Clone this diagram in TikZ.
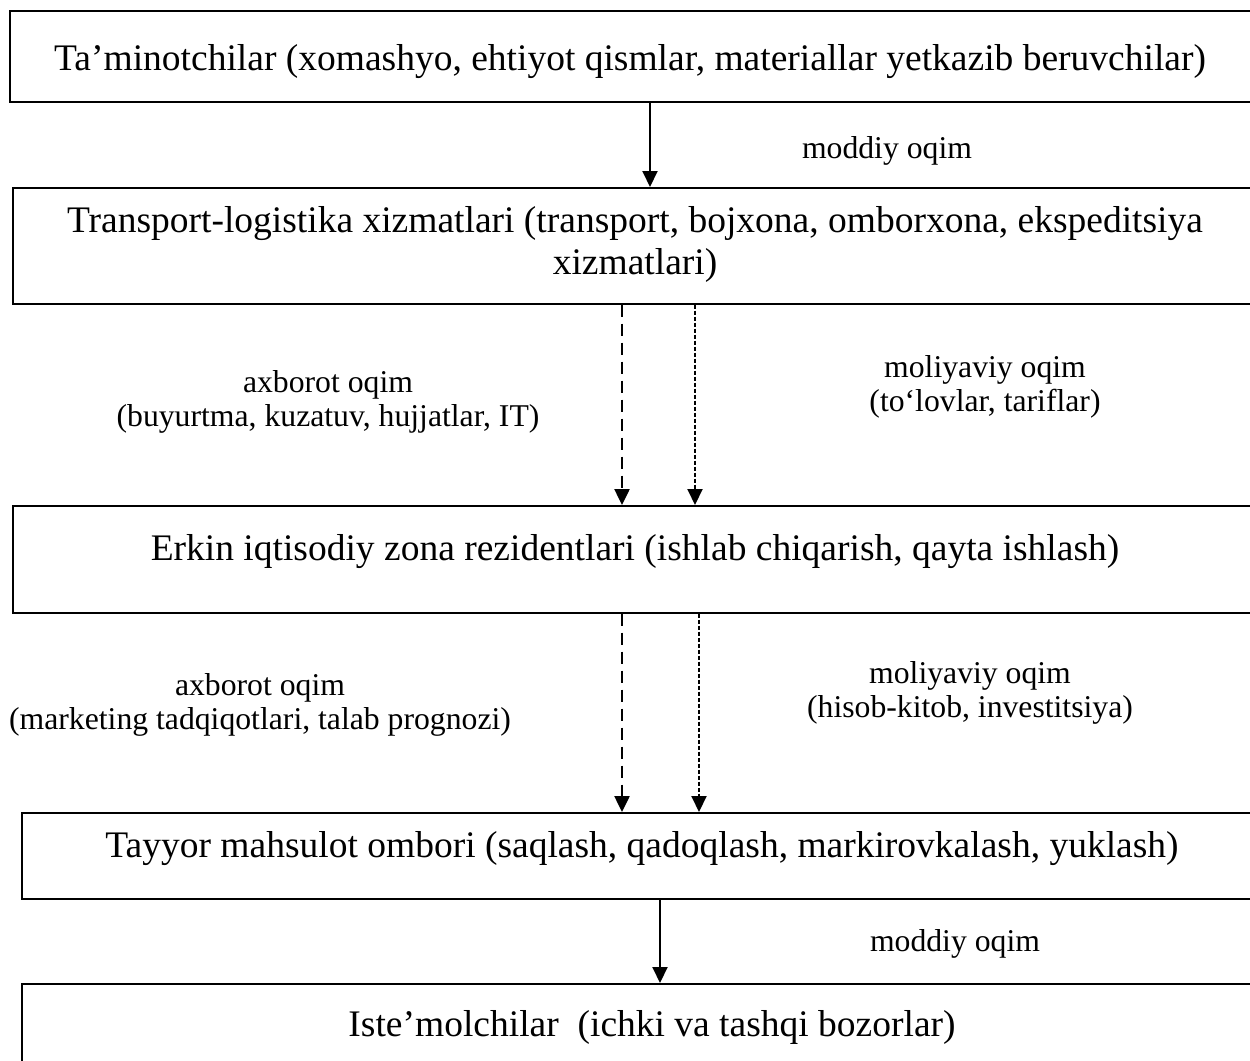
\documentclass[tikz,border=0pt]{standalone}
\usepackage{fontspec}
\setmainfont{Liberation Serif}
\usetikzlibrary{arrows.meta}
\newcommand{\boxfont}{\fontsize{37.5}{42}\selectfont}
\newcommand{\lblfont}{\fontsize{31.7}{34.5}\selectfont}
\tikzset{
  flowbox/.style={draw=black, line width=1.5pt, rectangle, inner sep=0pt, anchor=north west},
  boxtext/.style={font=\boxfont, inner sep=0pt, anchor=base},
  lbltext/.style={font=\lblfont, inner sep=0pt, anchor=base},
  tip/.style={-{Triangle[width=15pt,length=16pt]}},
  solidflow/.style={tip, line width=2pt},
  infoflow/.style={tip, line width=2.5pt, dash pattern=on 12pt off 7pt},
  finflow/.style={tip, line width=2pt, dash pattern=on 4pt off 2pt}
}
\begin{document}
\begin{tikzpicture}[x=1pt,y=-1pt]
\useasboundingbox (0,0) rectangle (1250,1060);
\clip (0,0) rectangle (1250,1060);
% boxes
\node[flowbox, minimum width=1291pt, minimum height=91pt] (b1) at (9,10) {};
\node[flowbox, minimum width=1288pt, minimum height=116pt] (b2) at (12,187) {};
\node[flowbox, minimum width=1288pt, minimum height=107pt] (b3) at (12,505) {};
\node[flowbox, minimum width=1279pt, minimum height=86pt] (b4) at (21,812) {};
\node[flowbox, minimum width=1279pt, minimum height=117pt] (b5) at (21,983) {};
% box texts
\node[boxtext] (t1) at (630,70) {Ta’minotchilar (xomashyo, ehtiyot qismlar, materiallar yetkazib beruvchilar)};
\node[boxtext] (t2) at (635,232) {\begin{tabular}[t]{@{}c@{}}Transport-logistika xizmatlari (transport, bojxona, omborxona, ekspeditsiya\\xizmatlari)\end{tabular}};
\node[boxtext] (t3) at (635,560) {Erkin iqtisodiy zona rezidentlari (ishlab chiqarish, qayta ishlash)};
\node[boxtext] (t4) at (642,857) {Tayyor mahsulot ombori (saqlash, qadoqlash, markirovkalash, yuklash)};
\node[boxtext] (t5) at (652,1036) {Iste’molchilar\ \ (ichki va tashqi bozorlar)};
% labels
\node[lbltext] (l1) at (887,158) {moddiy oqim};
\node[lbltext] (l2) at (328,392) {\begin{tabular}[t]{@{}c@{}}axborot oqim\\(buyurtma, kuzatuv, hujjatlar, IT)\end{tabular}};
\node[lbltext] (l3) at (985,377) {\begin{tabular}[t]{@{}c@{}}moliyaviy oqim\\(to‘lovlar, tariflar)\end{tabular}};
\node[lbltext] (l4) at (260,695) {\begin{tabular}[t]{@{}c@{}}axborot oqim\\(marketing tadqiqotlari, talab prognozi)\end{tabular}};
\node[lbltext] (l5) at (970,683) {\begin{tabular}[t]{@{}c@{}}moliyaviy oqim\\(hisob-kitob, investitsiya)\end{tabular}};
\node[lbltext] (l6) at (955,951) {moddiy oqim};
% connector x positions
\coordinate (xa) at (650,0);
\coordinate (xb) at (622,0);
\coordinate (xc) at (695,0);
\coordinate (xd) at (622,0);
\coordinate (xe) at (699,0);
\coordinate (xf) at (660,0);
% connectors
\draw[solidflow] (b1.south -| xa) -- (b2.north -| xa);
\draw[infoflow] (b2.south -| xb) -- (b3.north -| xb);
\draw[finflow] (b2.south -| xc) -- (b3.north -| xc);
\draw[infoflow] (b3.south -| xd) -- (b4.north -| xd);
\draw[finflow] (b3.south -| xe) -- (b4.north -| xe);
\draw[solidflow] (b4.south -| xf) -- (b5.north -| xf);
\end{tikzpicture}
\end{document}
